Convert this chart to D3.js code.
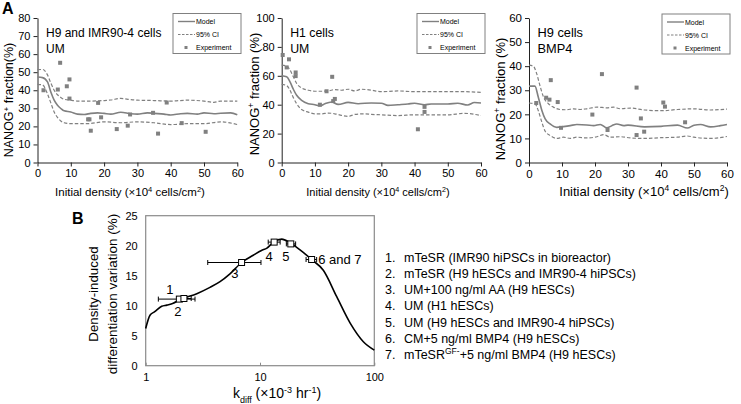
<!DOCTYPE html>
<html><head><meta charset="utf-8">
<script src="https://cdn.jsdelivr.net/npm/d3@7"></script>
<style>body{margin:0;background:#fff} text{font-family:"Liberation Sans",Arial,sans-serif;fill:#000}</style>
</head><body><svg id="c" width="741" height="404"></svg>
<script>
// ---------- Panel A data ----------
const xTicksA = [0,10,20,30,40,50,60];

const a1ModelX = [0,1.5,3,4,5,6,7,8,10,12,14,16,18,20,22,25,28,30,33,35,38,40,43,45,48,50,53,55,58,60];
const a1ModelY = [47.3,47,44.6,39,34.5,31.7,29.9,28.6,28,26.8,26.6,27.2,27.5,27.2,26.8,27.8,27,26.8,27.5,27.2,26.8,26.3,27,27.2,26.8,27.5,27,27.3,27.5,26.5];
const a1UpperX = [0,1.5,3,4,5,6,7,8,10,12,15,20,22,25,28,30,35,40,45,50,53,55,60];
const a1UpperY = [51.4,51.5,48.5,44,40,37.5,36,35,34.5,34,34,34.3,34.6,35.5,34.8,34.5,34.3,34,34.5,34,33.3,34,34];
const a1LowerX = [0,1.5,3,4,5,6,7,8,10,15,20,25,30,35,40,45,50,55,60];
const a1LowerY = [43.3,43,38,33,28,25,23,22,21.5,21.5,22.5,22,22.5,22,21,21.5,21.5,22.5,21];
const a1ExpX = [1.8,6.8,6.1,8.8,9.6,9.6,15.2,15.6,16,18.2,19.1,23.8,27.1,27.8,34.7,36.2,38.8,43.3,50.5];
const a1ExpY = [40,55.2,40.4,42.2,46,35.4,23.9,23.9,17.6,33,25,18.5,20.4,26.6,27.5,16,33.2,21.8,17];
const a1YTicks = [0,10,20,30,40,50,60,70,80];

const a2ModelX = [0,1.5,2.5,3.5,4.5,6,8,10,11.5,13,15,17,20,23,27,30,32,35,38,40,43,45,48,50,53,56,58,60];
const a2ModelY = [60,59.3,55.8,50.7,46.5,43,40.7,40,39.1,40.7,41.9,40.2,41.6,40.7,41.2,41,39.5,40,40.5,41,40,40.5,40.5,40.5,41,39.8,41.5,41.2];
const a2UpperX = [0,1.5,2.5,3.5,4.5,6,8,10,12,14,16,18,20,22,24,27,30,35,40,45,50,55,60];
const a2UpperY = [67.4,66.7,64,59.3,54.7,51.6,50,49.3,49.3,49.5,50.5,50,50.7,49.5,50.7,50,49,49.5,49,49,49,49,48.5];
const a2LowerX = [0,1.5,2.5,3.5,4.5,6,8,10,12,14,16,18,20,22,25,27,30,35,40,45,50,55,60];
const a2LowerY = [54,53.3,50,44.9,40.7,36.7,34.9,33.7,33.7,34.2,33.7,32.6,31.9,33.3,33.7,33.3,33,32.5,33,33,33,34,32.5];
const a2ExpX = [0.3,2.2,1.5,4.2,4.2,15.2,11.5,13.5,15.5,16,41,43,43];
const a2ExpY = [74.4,71.4,65.8,62.3,59.8,59.3,40,49.3,42.5,44,23,38.5,35];
const a2YTicks = [0,20,40,60,80,100];

const a3ModelX = [0,1.8,2.8,3.9,4.9,6.4,8.4,10.4,12.5,14.5,17.5,19.6,21.6,23.6,25.1,26.6,28.7,30,35,40,45,48,50,52,55,58,60];
const a3ModelY = [31.7,31.7,27.2,21.6,18.1,16,14.6,14.9,15.3,15.8,15.6,15.3,15.8,14.4,15.3,16,15.3,15.5,14.8,15,15.5,14.3,15.5,15.8,14.8,15.3,15.8];
const a3UpperX = [0,1.3,2.3,3.3,4.4,5.9,7.4,9.4,11.4,13.5,15.5,17.5,20.6,23.6,25.6,27.7,30.7,35,40,45,50,55,60];
const a3UpperY = [40.4,40,37,32,27.2,24.4,23,22,21.9,22.3,22,22.3,23,22.7,23,22.3,22.6,21.8,21.5,22,22.3,21.8,22.2];
const a3LowerX = [0,1.8,2.8,3.9,4.9,6.4,8.4,10.4,12.5,14.5,17.5,20.6,22.6,24.6,27.7,30.7,35,40,45,48,50,55,60];
const a3LowerY = [24.7,24.4,21.6,16.7,13,11.2,10,10.5,10,10.5,10.2,10.7,11.6,10.5,10.7,10.2,10,10.3,10.5,11,10.5,10,10.8];
const a3ExpX = [2.2,5.2,6.2,6.6,8.7,9.7,19.2,22.1,23.8,32.6,32.6,33.9,34.9,40.7,41.2,47.3];
const a3ExpY = [24.7,26.9,26.1,34.2,25.1,14.4,19.9,36.7,13.5,31.1,11.4,18.3,12.8,24.9,23.2,16.7];
const a3YTicks = [0,10,20,30,40,50,60];

const legendLabels = ["Model","95% CI","Experiment"];

// ---------- Panel B data ----------
const bCurveK = [1,1.09,1.2,1.38,1.53,1.74,1.97,2.18,2.8,3.65,4.47,5.46,6.9,8.73,10.3,11.5,13.1,15.5,18.3,22.4,28.3,35.8,46.9,61.5,80.2,100];
const bCurveV = [6.2,8.4,9.0,9.9,10.1,10.4,11.0,11.3,12.0,13.05,14.0,15.3,17.2,18.4,19.2,19.6,20.6,21.1,20.5,19.3,17.7,15.9,11.5,7.1,4.0,2.6];
const bPointLabels = ["1","2","3","4","5","6 and 7"];
const bPointK = [1.97,2.16,6.9,13.3,18.6,28.3];
const bPointV = [11.1,11.2,17.2,20.6,20.3,17.7];
const bErrLo = [1.29,1.9,3.49,11.8,17.0,25.3];
const bErrHi = [2.70,2.5,10.2,15.0,20.5,31.3];
const bYTicks = [0,5,10,15,20,25];
const bXTicks = [1,10,100];
const bList = ["mTeSR (IMR90 hiPSCs in bioreactor)","mTeSR (H9 hESCs and IMR90-4 hiPSCs)","UM+100 ng/ml AA (H9 hESCs)","UM (H1 hESCs)","UM (H9 hESCs and IMR90-4 hiPSCs)","CM+5 ng/ml BMP4 (H9 hESCs)","mTeSR|GF-|+5 ng/ml BMP4 (H9 hESCs)"];

// ---------- drawing ----------
const svg = d3.select("#c");
svg.append("rect").attr("width",741).attr("height",404).attr("fill","#fff");
const GREY = "#808080";

function drawA(c){
  const x = d3.scaleLinear().domain([0,60]).range(c.xr);
  const y = d3.scaleLinear().domain([0,c.ymax]).range([162.5,18]);
  const g = svg.append("g");
  const ya = g.append("g").attr("transform",`translate(${c.xr[0]},0)`)
    .call(d3.axisLeft(y).tickValues(c.yTicks).tickSize(4).tickSizeOuter(0).tickPadding(3));
  const xa = g.append("g").attr("transform",`translate(0,${y(0)})`)
    .call(d3.axisBottom(x).tickValues(xTicksA).tickSize(4).tickSizeOuter(0).tickPadding(3));
  [ya,xa].forEach(a=>{a.selectAll("text").style("font-size",c.tfs+"px").style("font-family","Liberation Sans, Arial");
    a.select(".domain").attr("stroke","#222"); a.selectAll(".tick line").attr("stroke","#222");});
  const line = d3.line().x(d=>x(d[0])).y(d=>y(d[1])).curve(d3.curveMonotoneX);
  g.append("path").datum(d3.zip(c.ux,c.uy)).attr("d",line).attr("fill","none").attr("stroke",GREY).attr("stroke-width",1.2).attr("stroke-dasharray","3.5,2");
  g.append("path").datum(d3.zip(c.lx,c.ly)).attr("d",line).attr("fill","none").attr("stroke",GREY).attr("stroke-width",1.2).attr("stroke-dasharray","3.5,2");
  g.append("path").datum(d3.zip(c.mx,c.my)).attr("d",line).attr("fill","none").attr("stroke",GREY).attr("stroke-width",1.6);
  g.selectAll(".ex").data(d3.zip(c.ex,c.ey)).join("rect")
    .attr("x",d=>x(d[0])-2).attr("y",d=>y(d[1])-2).attr("width",4).attr("height",4).attr("fill",GREY);
  // titles
  g.append("text").attr("x",c.xr[0]+8.5).attr("y",36.5).style("font-size",c.hfs+"px").text(c.title[0]);
  g.append("text").attr("x",c.xr[0]+8.5).attr("y",53).style("font-size",c.hfs+"px").text(c.title[1]);
  // y title
  const yt = g.append("text").attr("transform",`translate(${c.ytx},${c.yty}) rotate(-90)`).attr("text-anchor","middle").style("font-size",c.yfs+"px");
  yt.append("tspan").text("NANOG");
  yt.append("tspan").text("+").attr("baseline-shift","super").style("font-size",(c.yfs*0.65)+"px");
  yt.append("tspan").text(c.ysep+"fraction"+c.ysep2+"(%)");
  // x title
  const xt = g.append("text").attr("x",c.xtx).attr("y",196).attr("text-anchor","middle").style("font-size",c.afs+"px");
  xt.append("tspan").text("Initial density (×10");
  xt.append("tspan").text("4").attr("baseline-shift","super").style("font-size",(c.afs*0.65)+"px");
  xt.append("tspan").text(" cells/cm");
  xt.append("tspan").text("2").attr("baseline-shift","super").style("font-size",(c.afs*0.65)+"px");
  xt.append("tspan").text(")");
  // legend
  const [lx,ly] = c.leg;
  g.append("rect").attr("x",lx).attr("y",ly).attr("width",68).attr("height",40).attr("fill","#fff").attr("stroke",GREY).attr("stroke-width",1);
  const rows=[ly+8,ly+21,ly+34];
  g.append("line").attr("x1",lx+5).attr("x2",lx+22).attr("y1",rows[0]).attr("y2",rows[0]).attr("stroke",GREY).attr("stroke-width",1.4);
  g.append("line").attr("x1",lx+5).attr("x2",lx+22).attr("y1",rows[1]).attr("y2",rows[1]).attr("stroke",GREY).attr("stroke-width",1.1).attr("stroke-dasharray","2.5,1.5");
  g.append("rect").attr("x",lx+11.5).attr("y",rows[2]-1.5).attr("width",3).attr("height",3).attr("fill",GREY);
  legendLabels.forEach((s,i)=>g.append("text").attr("x",lx+23).attr("y",rows[i]+2.5).style("font-size","7px").text(s));
}

drawA({xr:[37.5,237.3],ymax:80,yTicks:a1YTicks,mx:a1ModelX,my:a1ModelY,ux:a1UpperX,uy:a1UpperY,lx:a1LowerX,ly:a1LowerY,ex:a1ExpX,ey:a1ExpY,
  title:["H9 and IMR90-4 cells","UM"],tfs:11,hfs:12,afs:11.5,yfs:12.5,ytx:13,yty:100,ysep:" ",ysep2:"",xtx:130,leg:[173,13.5]});
drawA({xr:[281.7,481],ymax:100,yTicks:a2YTicks,mx:a2ModelX,my:a2ModelY,ux:a2UpperX,uy:a2UpperY,lx:a2LowerX,ly:a2LowerY,ex:a2ExpX,ey:a2ExpY,
  title:["H1 cells","UM"],tfs:11,hfs:12.3,afs:11,yfs:13,ytx:259,yty:94,ysep:" ",ysep2:" ",xtx:378,leg:[417,13.5]});
drawA({xr:[529,727],ymax:60,yTicks:a3YTicks,mx:a3ModelX,my:a3ModelY,ux:a3UpperX,uy:a3UpperY,lx:a3LowerX,ly:a3LowerY,ex:a3ExpX,ey:a3ExpY,
  title:["H9 cells","BMP4"],tfs:11.5,hfs:12.8,afs:13,yfs:13,ytx:505,yty:99,ysep:" ",ysep2:" ",xtx:644,leg:[662,14]});

// panel letters
svg.append("text").attr("x",2).attr("y",14).style("font-size","16px").style("font-weight","bold").text("A");
svg.append("text").attr("x",72).attr("y",224).style("font-size","16px").style("font-weight","bold").text("B");

// ---------- Panel B ----------
const bx = d3.scaleLog().domain([1,100]).range([145.7,374.3]);
const by = d3.scaleLinear().domain([0,25]).range([365.7,215.7]);
const gb = svg.append("g");
gb.append("rect").attr("x",bx(1)).attr("y",by(25)).attr("width",bx(100)-bx(1)).attr("height",by(0)-by(25))
  .attr("fill","none").attr("stroke","#8a8a8a").attr("stroke-width",1.2);
const bya = gb.append("g").attr("transform",`translate(${bx(1)},0)`)
  .call(d3.axisLeft(by).tickValues(bYTicks).tickSize(0).tickSizeOuter(0).tickPadding(8));
const bxa = gb.append("g").attr("transform",`translate(0,${by(0)})`)
  .call(d3.axisBottom(bx).tickValues(bXTicks).tickFormat(d3.format("d")).tickSize(-3).tickSizeOuter(0).tickPadding(8));
[bya,bxa].forEach(a=>{a.select(".domain").remove();a.selectAll("text").style("font-size","11px").style("font-family","Liberation Sans, Arial");a.selectAll(".tick line").attr("stroke","#8a8a8a");});
const bline = d3.line().x(d=>bx(d[0])).y(d=>by(d[1])).curve(d3.curveMonotoneX);
gb.append("path").datum(d3.zip(bCurveK,bCurveV)).attr("d",bline).attr("fill","none").attr("stroke","#000").attr("stroke-width",1.6);
const pts = bPointK.map((k,i)=>({k,v:bPointV[i],lo:bErrLo[i],hi:bErrHi[i],lab:bPointLabels[i]}));
pts.forEach(p=>{
  const yy = by(p.v);
  gb.append("line").attr("x1",bx(p.lo)).attr("x2",bx(p.hi)).attr("y1",yy).attr("y2",yy).attr("stroke","#000").attr("stroke-width",1);
  [p.lo,p.hi].forEach(e=>gb.append("line").attr("x1",bx(e)).attr("x2",bx(e)).attr("y1",yy-2.5).attr("y2",yy+2.5).attr("stroke","#000").attr("stroke-width",1));
});
pts.forEach(p=>{
  gb.append("rect").attr("x",bx(p.k)-3).attr("y",by(p.v)-3).attr("width",6).attr("height",6).attr("fill","#fff").attr("stroke","#000").attr("stroke-width",1);
});
// label offsets (layout)
const labOff = [[-9.4,-10,"middle"],[-6,12.5,"middle"],[-6.6,10.5,"middle"],[-5,14,"middle"],[-5,12,"middle"],[6.5,0,"start"]];
pts.forEach((p,i)=>{
  gb.append("text").attr("x",bx(p.k)+labOff[i][0]).attr("y",by(p.v)+labOff[i][1]+4.6)
    .attr("text-anchor",labOff[i][2]).style("font-size","13px").text(p.lab);
});
// B axis titles
gb.append("text").attr("transform","translate(98,294) rotate(-90)").attr("text-anchor","middle").style("font-size","13.3px").text("Density-induced");
gb.append("text").attr("transform","translate(117,294) rotate(-90)").attr("text-anchor","middle").style("font-size","13.5px").text("differentiation variation (%)");
const bxt = gb.append("text").attr("x",277).attr("y",398).attr("text-anchor","middle").style("font-size","14px");
bxt.append("tspan").text("k");
bxt.append("tspan").text("diff").attr("baseline-shift","sub").style("font-size","9px");
bxt.append("tspan").text(" (×10").attr("baseline-shift","0");
bxt.append("tspan").text("-3").attr("baseline-shift","super").style("font-size","9px");
bxt.append("tspan").text(" hr");
bxt.append("tspan").text("-1").attr("baseline-shift","super").style("font-size","9px");
bxt.append("tspan").text(")");
// list
bList.forEach((s,i)=>{
  const yy = 257 + i*16.33 + 4.5;
  gb.append("text").attr("x",385).attr("y",yy).style("font-size","12.5px").text((i+1)+".");
  const t = gb.append("text").attr("x",404).attr("y",yy).style("font-size","12.5px");
  const parts = s.split("|");
  if(parts.length===1){ t.text(s); }
  else { t.append("tspan").text(parts[0]); t.append("tspan").text(parts[1]).attr("baseline-shift","super").style("font-size","8.5px"); t.append("tspan").text(parts[2]); }
});
</script></body></html>
